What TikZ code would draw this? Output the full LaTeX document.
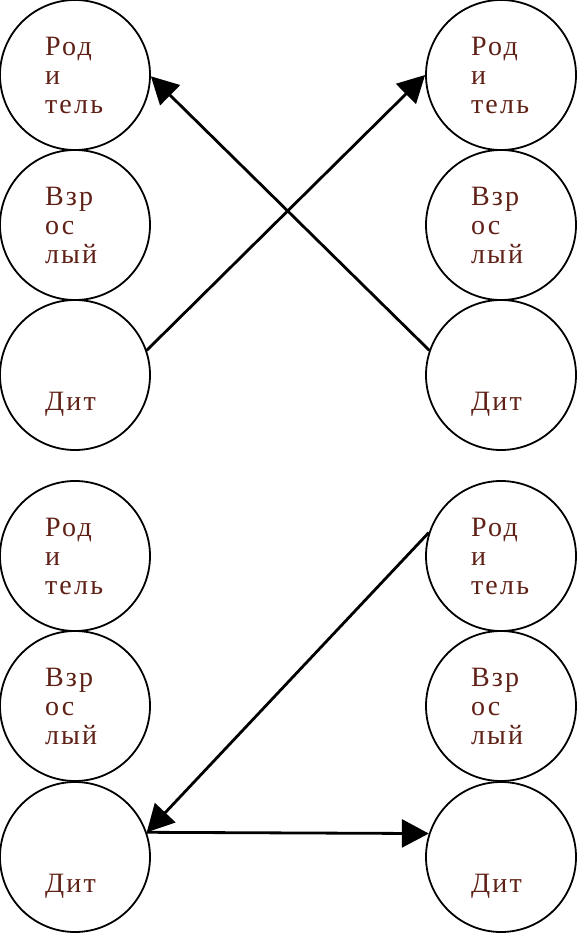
\documentclass[tikz,border=0pt]{standalone}
\usepackage{fontspec}
\setmainfont[LetterSpace=8]{Liberation Serif}
\usetikzlibrary{arrows.meta}
\definecolor{txtcol}{RGB}{95,32,22}
\tikzset{
  person/.style={circle, draw=black, line width=1.8pt, minimum size=150pt, inner sep=0pt,
    text width=60pt, align=left, text=txtcol,
    font=\fontsize{28pt}{29pt}\selectfont},
  link/.style={line width=2.8pt, -{Triangle[length=27pt, width=28pt]}}
}
\begin{document}
\begin{tikzpicture}[x=1pt,y=1pt]
\useasboundingbox (0,0) rectangle (576,-933);
% top group
\node[person] (p1) at (75,-75) {Род\\и\\тель};
\node[person] (a1) at (75,-225) {Взр\\ос\\лый};
\node[person] (c1) at (75,-375) {\phantom{Род}\\\phantom{и}\\Дит};
\node[person] (p2) at (501,-75) {Род\\и\\тель};
\node[person] (a2) at (501,-225) {Взр\\ос\\лый};
\node[person] (c2) at (501,-375) {\phantom{Род}\\\phantom{и}\\Дит};
% bottom group
\node[person] (p3) at (75,-556) {Род\\и\\тель};
\node[person] (a3) at (75,-706) {Взр\\ос\\лый};
\node[person] (c3) at (75,-857) {\phantom{Род}\\\phantom{и}\\Дит};
\node[person] (p4) at (501,-556) {Род\\и\\тель};
\node[person] (a4) at (501,-706) {Взр\\ос\\лый};
\node[person] (c4) at (501,-857) {\phantom{Род}\\\phantom{и}\\Дит};
% connectors
\draw[link] (c2.161) -- (p1.-1);
\draw[link] (c1.19) -- (p2.180);
\draw[link] (p4.162) -- (c3.19);
\draw[link] (c3.19) -- (c4.162);
\end{tikzpicture}
\end{document}
